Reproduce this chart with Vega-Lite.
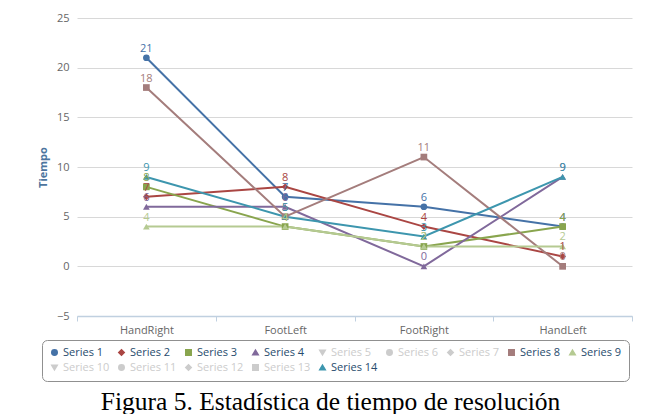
{
  "$schema": "https://vega.github.io/schema/vega-lite/v6.json",
  "width": 555,
  "height": 298,
  "autosize": {"type": "none"},
  "padding": {"left": 77, "top": 18, "right": 14, "bottom": 98},
  "background": "white",
  "config": {"view": {"stroke": null}},
  "title": {
    "text": "Figura 5. Estadística de tiempo de resolución",
    "orient": "bottom",
    "anchor": "middle",
    "font": "Liberation Serif",
    "fontSize": 25.5,
    "fontWeight": "normal",
    "color": "#000000",
    "dx": -24,
    "offset": 8
  },
  "data": {
    "values": [
      {"series": "Series 1", "joint": "HandRight", "value": 21},
      {"series": "Series 1", "joint": "FootLeft", "value": 7},
      {"series": "Series 1", "joint": "FootRight", "value": 6},
      {"series": "Series 1", "joint": "HandLeft", "value": 4},
      {"series": "Series 2", "joint": "HandRight", "value": 7},
      {"series": "Series 2", "joint": "FootLeft", "value": 8},
      {"series": "Series 2", "joint": "FootRight", "value": 4},
      {"series": "Series 2", "joint": "HandLeft", "value": 1},
      {"series": "Series 3", "joint": "HandRight", "value": 8},
      {"series": "Series 3", "joint": "FootLeft", "value": 4},
      {"series": "Series 3", "joint": "FootRight", "value": 2},
      {"series": "Series 3", "joint": "HandLeft", "value": 4},
      {"series": "Series 4", "joint": "HandRight", "value": 6},
      {"series": "Series 4", "joint": "FootLeft", "value": 6},
      {"series": "Series 4", "joint": "FootRight", "value": 0},
      {"series": "Series 4", "joint": "HandLeft", "value": 9},
      {"series": "Series 8", "joint": "HandRight", "value": 18},
      {"series": "Series 8", "joint": "FootLeft", "value": 5},
      {"series": "Series 8", "joint": "FootRight", "value": 11},
      {"series": "Series 8", "joint": "HandLeft", "value": 0},
      {"series": "Series 9", "joint": "HandRight", "value": 4},
      {"series": "Series 9", "joint": "FootLeft", "value": 4},
      {"series": "Series 9", "joint": "FootRight", "value": 2},
      {"series": "Series 9", "joint": "HandLeft", "value": 2},
      {"series": "Series 14", "joint": "HandRight", "value": 9},
      {"series": "Series 14", "joint": "FootLeft", "value": 5},
      {"series": "Series 14", "joint": "FootRight", "value": 3},
      {"series": "Series 14", "joint": "HandLeft", "value": 9}
    ]
  },
  "encoding": {
    "x": {
      "field": "joint",
      "type": "nominal",
      "sort": ["HandRight", "FootLeft", "FootRight", "HandLeft"],
      "scale": {"type": "band", "paddingInner": 0, "paddingOuter": 0},
      "axis": {
        "title": null,
        "labelAngle": 0,
        "labelColor": "#666666",
        "labelFont": "Open Sans",
        "labelFontSize": 11,
        "labelPadding": 3,
        "domainColor": "#C0D0E0",
        "domainWidth": 1.5,
        "tickColor": "#C0D0E0",
        "tickSize": 5,
        "tickBand": "extent",
        "grid": false
      }
    },
    "y": {
      "field": "value",
      "type": "quantitative",
      "scale": {"domain": [-5, 25], "nice": false, "zero": false},
      "axis": {
        "title": "Tiempo",
        "titleColor": "#4d759e",
        "titleFont": "Open Sans",
        "titleFontSize": 11,
        "titleFontWeight": "bold",
        "titlePadding": 8,
        "values": [-5, 0, 5, 10, 15, 20, 25],
        "labelColor": "#666666",
        "labelFont": "Open Sans",
        "labelFontSize": 11,
        "labelPadding": 8,
        "domain": false,
        "ticks": false,
        "grid": true,
        "gridColor": "#D8D8D8",
        "gridWidth": 1
      }
    },
    "color": {
      "field": "series",
      "type": "nominal",
      "scale": {
        "domain": ["Series 1", "Series 2", "Series 3", "Series 4", "Series 5", "Series 6", "Series 7", "Series 8", "Series 9", "Series 10", "Series 11", "Series 12", "Series 13", "Series 14"],
        "range": ["#4572A7", "#AA4643", "#89A54E", "#80699B", "#CCCCCC", "#CCCCCC", "#CCCCCC", "#A47D7C", "#B5CA92", "#CCCCCC", "#CCCCCC", "#CCCCCC", "#CCCCCC", "#3D96AE"]
      },
      "legend": {
        "title": null,
        "orient": "none",
        "legendX": -35,
        "legendY": 322,
        "direction": "horizontal",
        "columns": 9,
        "gridAlign": "none",
        "columnPadding": 5,
        "rowPadding": 2,
        "labelFont": "Open Sans",
        "labelFontSize": 11,
        "labelColor": "#274b6d",
        "symbolSize": 30,
        "symbolOffset": 0,
        "labelOffset": 3,
        "padding": 7,
        "strokeColor": "#909090",
        "cornerRadius": 5,
        "encode": {
          "labels": {
            "update": {
              "fill": {"signal": "indexof(['Series 5','Series 6','Series 7','Series 10','Series 11','Series 12','Series 13'], datum.value) >= 0 ? '#CCCCCC' : '#274b6d'"}
            }
          }
        }
      }
    }
  },
  "layer": [
    {
      "mark": {"type": "line", "strokeWidth": 2},
      "encoding": {"detail": {"field": "series"}}
    },
    {
      "mark": {"type": "point", "filled": true, "size": 45, "opacity": 1},
      "encoding": {
        "shape": {
          "field": "series",
          "type": "nominal",
          "scale": {
            "domain": ["Series 1", "Series 2", "Series 3", "Series 4", "Series 5", "Series 6", "Series 7", "Series 8", "Series 9", "Series 10", "Series 11", "Series 12", "Series 13", "Series 14"],
            "range": ["circle", "diamond", "square", "triangle-up", "triangle-down", "circle", "diamond", "square", "triangle-up", "triangle-down", "circle", "diamond", "square", "triangle-up"]
          }
        }
      }
    },
    {
      "mark": {"type": "text", "dy": -9, "fontSize": 11, "font": "Open Sans"},
      "encoding": {"text": {"field": "value", "type": "quantitative"}}
    }
  ]
}
